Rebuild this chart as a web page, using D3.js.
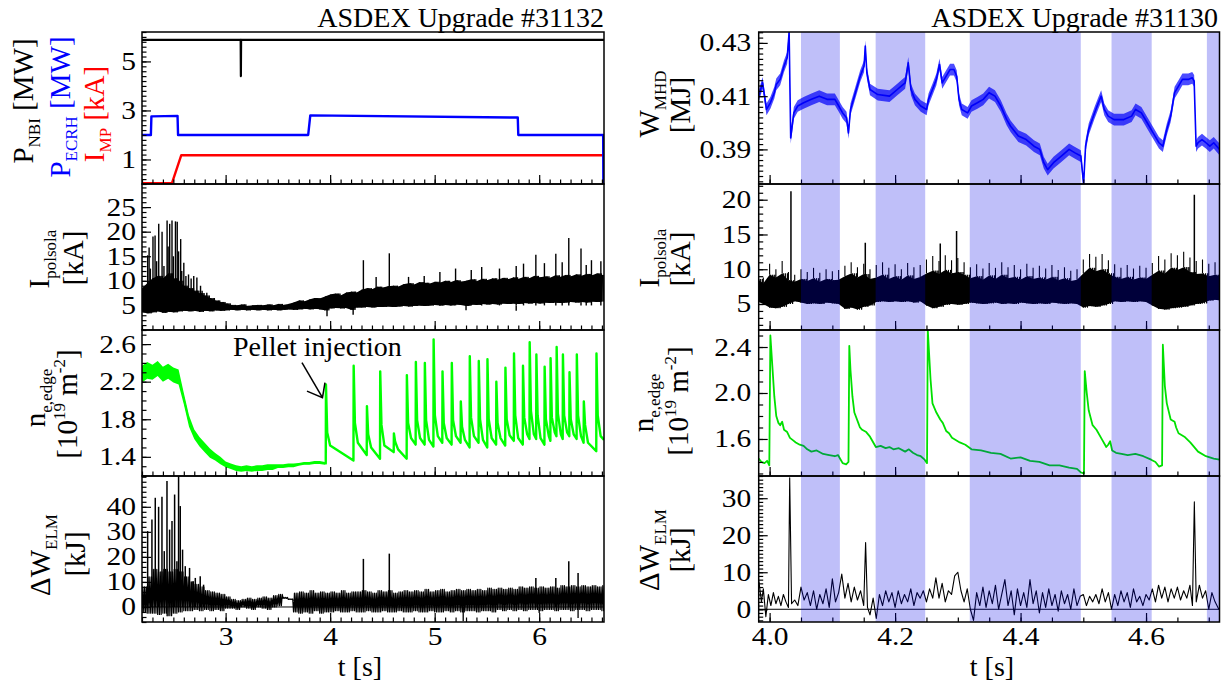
<!DOCTYPE html>
<html>
<head>
<meta charset="utf-8">
<script src="https://cdnjs.cloudflare.com/ajax/libs/d3/7.8.5/d3.min.js"></script>
<style>
  body { margin: 0; background: #fff; }
  svg { font-family: "Liberation Serif", "Times New Roman", serif; }
</style>
</head>
<body>
<svg id="chart" width="1232" height="682"></svg>
<script>
// ---------------- data: shot #31132 (left) ----------------
// heating / coil current steps
let nbiT = [2.20, 3.144, 3.146, 3.148, 6.62];
let nbiV = [5.88, 5.88, 4.40, 5.88, 5.88];
let ecrhT = [2.20, 2.285, 2.29, 2.54, 2.545, 3.79, 3.81, 5.795, 5.80, 6.612, 6.614];
let ecrhV = [2.00, 2.00, 2.76, 2.78, 2.00, 2.00, 2.80, 2.71, 2.00, 2.00, 0.00];
let mpT = [2.20, 2.486, 2.575, 6.62];
let mpV = [0.03, 0.03, 1.17, 1.17];

// common sample times for the noisy left traces
let tL = [2.20,2.25,2.30,2.35,2.40,2.45,2.50,2.55,2.60,2.65,2.70,2.75,2.80,2.85,2.90,2.95,3.00,3.05,3.10,3.15,
          3.20,3.25,3.30,3.35,3.40,3.45,3.50,3.55,3.60,3.65,3.70,3.75,3.80,3.85,3.90,3.95,4.00,4.05,4.10,4.15,
          4.20,4.25,4.30,4.35,4.40,4.45,4.50,4.55,4.60,4.65,4.70,4.75,4.80,4.85,4.90,4.95,5.00,5.05,5.10,5.15,
          5.20,5.25,5.30,5.35,5.40,5.45,5.50,5.55,5.60,5.65,5.70,5.75,5.80,5.85,5.90,5.95,6.00,6.05,6.10,6.15,
          6.20,6.25,6.30,6.35,6.40,6.45,6.50,6.55,6.60];

// I_polsola envelope [kA]
let ipLHi = [8.5,9.5,10.5,11.0,10.5,11.5,10.5,10.0,9.0,8.5, 8.0,7.5,7.0,6.5,6.0,5.7,5.4,5.1,5.0,5.2,
             4.9,5.0,5.1,5.0,5.2,5.0,5.3,5.1,5.3,5.6, 6.0,5.8,6.2,6.5,6.4,6.8,7.2,7.4,7.0,7.6,
             7.8,7.6,8.2,8.5,8.3,8.8,8.6,8.9,9.0,8.8, 9.3,9.5,9.2,9.7,9.6,9.4,9.8,9.6,10.0,9.7,
             10.1,9.8,10.0,10.3,9.9,10.4,10.1,10.5,10.2,10.6, 10.3,10.7,10.4,10.8,10.5,11.0,10.7,10.9,10.6,11.1,
             10.8,11.2,10.9,11.3,11.0,11.4,11.1,11.5,11.2];
let ipLLo = [3.6,3.4,3.6,3.8,3.5,3.7,3.6,3.8,3.9,3.8, 3.9,3.7,3.9,3.8,4.0,3.9,4.0,4.1,4.0,4.1,
             4.0,4.1,4.0,4.1,4.0,4.1,4.0,4.1,4.2,4.1, 4.2,4.3,4.2,4.3,4.2,4.0,4.4,4.5,4.4,4.5,
             4.1,4.6,4.6,4.7,4.6,4.7,4.7,4.8,4.7,4.8, 4.9,4.8,4.9,5.0,4.9,5.0,5.1,5.0,5.1,5.0,
             5.2,5.1,4.9,5.2,5.1,5.3,5.2,5.3,5.2,5.4, 5.3,5.4,5.3,5.5,5.4,5.5,5.4,5.6,5.5,5.6,
             5.5,5.6,5.7,5.6,5.7,5.6,5.8,5.7,5.8];
let ipLSpkT = [2.254,2.268,2.280,2.305,2.325,2.340,2.360,2.392,2.410,2.440,2.450,2.465,2.487,2.500,2.520,2.537,2.550,2.570,2.580,2.600,
               2.620,2.645,2.670,2.695,2.725,2.760,2.775,2.820,4.318,4.440,4.566,4.750,4.900,5.050,5.200,5.350,5.450,5.620,5.780,5.850,
               5.968,6.050,6.159,6.220,6.283,6.400,6.450,6.500,6.590];
let ipLSpkV = [15.2,16.8,12.5,19.0,19.2,14.0,21.6,20.0,13.0,22.3,17.0,21.6,22.3,15.0,22.1,22.0,16.0,18.5,12.0,13.7,
               11.0,11.3,10.5,11.0,10.7,9.0,8.0,7.6,14.2,10.8,15.6,10.8,11.0,11.8,12.5,12.2,12.8,12.5,13.0,13.5,
               15.3,13.6,15.5,13.8,18.7,16.6,13.2,14.2,14.0];
let ipLDipT = [3.970, 4.220, 5.300, 5.780];
let ipLDipV = [2.8, 3.1, 4.0, 3.9];

// n_e,edge before the pellets [1e19 m^-2]
let neLT = [2.20,2.25,2.30,2.35,2.40,2.45,2.50,2.55,2.60,2.65,2.70,2.75,2.80,2.85,2.90,2.95,3.00,3.05,
            3.10,3.15,3.20,3.25,3.30,3.35,3.40,3.45,3.50,3.55,3.60,3.65,3.70,3.75,3.80,3.85,3.90,3.95];
let neLV = [2.28,2.32,2.30,2.34,2.28,2.31,2.27,2.25,2.02,1.78,1.64,1.56,1.50,1.44,1.40,1.36,1.32,1.30,
            1.28,1.27,1.28,1.27,1.28,1.28,1.29,1.29,1.30,1.30,1.31,1.31,1.32,1.33,1.33,1.34,1.34,1.33];
let neLNoise = [0.09,0.09,0.08,0.08,0.08,0.08,0.08,0.08,0.06,0.06,0.05,0.05,0.05,0.05,0.04,0.04,0.03,0.03,
                0.03,0.03,0.03,0.03,0.03,0.03,0.03,0.03,0.02,0.02,0.02,0.02,0.015,0.015,0.015,0.015,0.015,0.015];
// pellets: time, value just before, peak, value ~12 ms after, value ~40 ms after
let pelT    = [3.960,4.225,4.352,4.479,4.610,4.734,4.820,4.906,4.990,5.075,5.164,5.250,5.336,5.422,5.505,
               5.590,5.677,5.759,5.845,5.909,5.973,6.052,6.109,6.167,6.227,6.290,6.360,6.427,6.548];
let pelBase = [1.33,1.36,1.42,1.38,1.45,1.38,1.53,1.53,1.51,1.55,1.53,1.55,1.50,1.55,1.50,
               1.53,1.52,1.57,1.53,1.59,1.59,1.53,1.57,1.62,1.59,1.62,1.59,1.55,1.46];
let pelPeak = [2.17,2.37,1.94,2.31,1.65,2.27,2.41,2.40,2.65,2.31,2.40,1.99,2.47,2.42,2.44,
               2.20,2.35,2.50,2.37,2.62,2.49,2.36,2.45,2.57,2.49,2.30,2.49,1.99,2.50];
let pelKnee = [1.66,1.76,1.64,1.74,1.56,1.76,1.79,1.79,1.84,1.76,1.79,1.72,1.82,1.80,1.80,
               1.76,1.80,1.84,1.82,1.89,1.84,1.80,1.82,1.86,1.84,1.80,1.84,1.74,1.84];
let pelFlat = [1.52,1.55,1.50,1.52,1.48,1.60,1.60,1.58,1.62,1.60,1.62,1.58,1.62,1.58,1.60,
               1.60,1.63,1.60,1.64,1.64,1.60,1.62,1.66,1.64,1.66,1.64,1.62,1.55,1.62];
let neLEndT = 6.62, neLEndV = 1.58;

// Delta W_ELM envelope [kJ]
let dwLHi = [8,12,15,14,15,14,15,14,12,10, 9,8,6.5,6,5.5,5,4,3,2.5,3,
             3.5,3,3.5,4,3.5,4.5,5,3.8,3.2,5.5, 6,5.5,6.5,5.5,6,5.5,6,5.5,6.5,5.5,
             6,6,6.5,6,5.5,6.5,6,6.5,5.5,6, 6.5,6,6.5,6,7,6,6.5,7,6,6.5,
             7,6.5,7,6.5,7,6.5,7.5,7,7.5,7, 7.5,7,8,7.5,8,7.5,8,7.5,8,7.5,
             8.5,8,8.5,8,8.5,8,8.5,8,8.5];
let dwLLo = [-2,-2.5,-2.5,-3,-2.5,-3.5,-2.5,-2,-1.5,-1.5, -1,-1.5,-1,-1.5,-1,-1.5,-0.5,-0.5,-1,0,
             -0.5,-1,0,-0.5,-1,0,0.5,3.4,3.0,-2, -2.5,-2,-2.5,-1.5,-2.5,-2,-2,-1.5,-2,-2,
             -1.5,-2,-2,-1.5,-2,-2,-1.5,-2,-2,-1.5, -2,-2,-1.5,-2,-2,-1.5,-2,-2,-1.5,-2,
             -1.5,-2,-1.5,-1.5,-2,-1.5,-1.5,-2,-1,-1.5, -1,-1.5,-1,-1.5,-1,-1,-1.5,-1,-1,-1.5,
             -1,-1,-1.5,-1,-1,-1.5,-1,-1,-1.5];
let dwLSpkT = [2.254,2.295,2.327,2.359,2.391,2.413,2.439,2.464,2.487,2.512,2.534,2.550,2.566,2.588,2.614,2.655,2.687,2.710,2.757,2.789,
               4.318,4.566,5.968,6.159,6.283,6.372];
let dwLSpkV = [30.3,34.9,43.6,40.0,44.0,22.3,50.3,30.9,34.3,44.9,18.3,52.3,40.3,22.9,16.3,15.6,10.3,11.6,12.3,8.9,
               19.2,21.3,11.6,11.6,18.3,13.6];
let dwLDipT = [2.440, 5.273, 6.000, 6.372];
let dwLDipV = [-3.7, -5.7, -2.4, -4.4];

// ---------------- data: shot #31130 (right) ----------------
let bandStart = [4.050, 4.169, 4.319, 4.545, 4.697];
let bandEnd   = [4.112, 4.248, 4.496, 4.609, 4.720];

// W_MHD [MJ]
let wT = [3.9826,3.9888,3.9950,4.0012,4.0075,4.0106,4.0168,4.0230,4.0280,4.0311,4.0336,4.0386,4.0448,4.0542,4.0666,
          4.0791,4.0915,4.1040,4.1102,4.1164,4.1226,4.1257,4.1289,4.1351,4.1444,4.1506,4.1525,4.1550,4.1600,4.1724,
          4.1911,4.2035,4.2098,4.2160,4.2210,4.2253,4.2316,4.2409,4.2502,4.2533,4.2596,4.2658,4.2708,4.2751,4.2814,
          4.2876,4.2938,4.2982,4.3019,4.3063,4.3156,4.3218,4.3312,4.3405,4.3498,4.3592,4.3685,4.3778,4.3841,4.3965,
          4.4090,4.4214,4.4307,4.4370,4.4432,4.4525,4.4650,4.4774,4.4868,4.4961,4.5005,4.5036,4.5086,4.5179,4.5241,
          4.5285,4.5335,4.5397,4.5490,4.5646,4.5770,4.5833,4.5926,4.6019,4.6113,4.6206,4.6268,4.6331,4.6393,4.6455,
          4.6518,4.6580,4.6673,4.6736,4.6767,4.6798,4.6829,4.6892,4.6954,4.7017,4.7079,4.7171];
let wV = [0.4100,0.4150,0.4050,0.4075,0.4113,0.4144,0.4163,0.4213,0.4244,0.4341,0.3943,0.4037,0.4063,0.4075,0.4088,
          0.4100,0.4088,0.4088,0.4063,0.4037,0.4019,0.3962,0.4050,0.4100,0.4175,0.4213,0.4288,0.4188,0.4125,0.4106,
          0.4100,0.4125,0.4138,0.4150,0.4225,0.4125,0.4088,0.4063,0.4050,0.4088,0.4125,0.4163,0.4219,0.4150,0.4175,
          0.4200,0.4200,0.4175,0.4088,0.4050,0.4037,0.4063,0.4075,0.4088,0.4113,0.4100,0.4063,0.4013,0.3987,0.3950,
          0.3937,0.3912,0.3900,0.3850,0.3824,0.3850,0.3875,0.3900,0.3887,0.3875,0.3770,0.3912,0.3975,0.4037,0.4075,
          0.4100,0.4050,0.4025,0.4012,0.4012,0.4025,0.4050,0.4037,0.4000,0.3962,0.3925,0.3912,0.3975,0.4025,0.4113,
          0.4138,0.4163,0.4163,0.4169,0.4157,0.3912,0.3925,0.3937,0.3925,0.3912,0.3925,0.3900];
let wNoise = 0.0022;

// I_polsola [kA]
let rT = [3.98,3.99,4.00,4.01,4.02,4.03,4.04,4.05,4.06,4.07,4.08,4.09,4.10,4.11,4.12,4.13,4.14,4.15,4.16,4.17,
          4.18,4.19,4.20,4.21,4.22,4.23,4.24,4.25,4.26,4.27,4.28,4.29,4.30,4.31,4.32,4.33,4.34,4.35,4.36,4.37,
          4.38,4.39,4.40,4.41,4.42,4.43,4.44,4.45,4.46,4.47,4.48,4.49,4.50,4.51,4.52,4.53,4.54,4.55,4.56,4.57,
          4.58,4.59,4.60,4.61,4.62,4.63,4.64,4.65,4.66,4.67,4.68,4.69,4.70,4.71,4.72];
let ipRLo = [5.4,5.0,4.5,4.4,4.6,5.0,5.4,5.2,5.0,5.1, 5.0,5.2,5.1,5.0,4.3,4.5,4.2,4.6,4.8,5.3,
             5.4,5.3,5.4,5.3,5.4,5.2,5.4,4.8,4.4,4.6, 4.9,5.0,4.9,5.0,5.2,5.1,5.0,5.1,5.2,5.0,
             5.1,5.0,5.2,5.1,5.0,5.1,5.0,5.2,5.1,5.0, 5.1,5.0,4.5,4.7,4.6,4.8,5.0,5.4,5.3,5.4,
             5.3,5.4,5.3,4.8,4.3,4.2,4.4,4.5,4.6,4.8, 5.0,5.1,5.5,5.6,5.5];
let ipRTop = [8.6,8.0,9.2,8.8,9.4,8.4,8.2,8.6,8.3,8.7, 8.2,8.6,8.4,8.5,9.0,9.4,8.8,9.3,8.6,8.8,
              9.2,8.6,9.0,8.5,9.1,8.6,8.9,9.4,9.8,9.3, 9.9,9.4,9.6,9.2,8.7,9.0,8.5,9.1,8.6,9.2,
              8.7,8.9,8.5,9.0,8.6,8.8,8.5,8.9,8.4,8.7, 8.3,8.5,9.4,10.2,9.7,10.0,9.4,8.9,8.6,8.9,
              8.5,8.8,8.6,9.2,9.8,9.4,10.2,9.9,10.3,9.6, 9.3,9.4,9.0,9.2,8.9];
let ipRHi = [9.6,8.8,10.8,10.0,11.2,9.6,9.2,10.0,9.6,10.2, 9.5,10.0,9.7,9.9,10.5,11.0,10.3,10.8,10.0,10.6,
             11.0,10.2,10.7,10.0,10.9,10.3,10.6,11.4,11.9,11.2, 12.0,11.3,11.6,11.0,10.3,10.7,10.1,10.9,10.2,11.0,
             10.3,10.6,10.0,10.8,10.2,10.5,10.1,10.6,9.9,10.3, 9.8,10.0,11.4,12.2,11.8,12.2,11.3,10.7,10.2,10.6,
             10.1,10.5,10.2,10.9,11.9,11.4,12.3,12.0,12.5,11.7, 11.2,11.4,10.8,11.0,10.6];
let ipRSpkT = [4.034, 4.1525, 4.272, 4.298, 4.677];
let ipRSpkV = [21.2, 13.8, 13.7, 15.5, 20.7];

// n_e,edge [1e19 m^-2]
let neRT = [3.9826,3.9870,3.9919,3.9960,3.9995,4.0012,4.0044,4.0075,4.0106,4.0140,4.0168,4.0200,4.0230,4.0280,4.0324,
            4.0370,4.0417,4.0480,4.0542,4.0600,4.0666,4.0750,4.0853,4.0950,4.1040,4.1090,4.1133,4.1164,4.1220,4.1257,
            4.1270,4.1289,4.1320,4.1351,4.1413,4.1440,4.1475,4.1540,4.1600,4.1693,4.1770,4.1849,4.1910,4.1973,4.2060,
            4.2160,4.2220,4.2284,4.2350,4.2409,4.2471,4.2509,4.2521,4.2565,4.2596,4.2658,4.2720,4.2760,4.2814,4.2860,
            4.2907,4.3031,4.3120,4.3218,4.3370,4.3529,4.3680,4.3841,4.4000,4.4152,4.4300,4.4463,4.4620,4.4774,4.4900,
            4.4961,4.5011,4.5023,4.5055,4.5086,4.5148,4.5210,4.5304,4.5366,4.5397,4.5428,4.5460,4.5521,4.5610,4.5708,
            4.5830,4.5957,4.6081,4.6150,4.6206,4.6256,4.6268,4.6300,4.6331,4.6393,4.6455,4.6480,4.6518,4.6611,4.6705,
            4.6829,4.6954,4.7079,4.7171];
let neRV = [1.43,1.40,1.39,1.41,1.37,2.50,2.23,1.97,1.80,1.74,1.72,1.75,1.68,1.66,1.61,
            1.59,1.57,1.55,1.54,1.51,1.49,1.50,1.47,1.46,1.45,1.46,1.42,1.39,1.38,1.40,
            2.41,2.20,1.97,1.83,1.74,1.70,1.68,1.66,1.62,1.53,1.54,1.52,1.53,1.51,1.52,
            1.49,1.51,1.48,1.46,1.45,1.42,1.39,2.55,2.12,1.91,1.83,1.77,1.74,1.67,1.65,
            1.61,1.57,1.55,1.51,1.50,1.48,1.47,1.43,1.44,1.41,1.40,1.37,1.37,1.35,1.34,
            1.31,1.30,2.19,2.00,1.85,1.72,1.68,1.59,1.53,1.55,1.58,1.50,1.48,1.47,1.46,
            1.47,1.45,1.42,1.40,1.36,1.37,2.42,2.06,1.91,1.77,1.75,1.70,1.65,1.62,1.57,
            1.49,1.45,1.43,1.42];

// Delta W_ELM [kJ]
let dwRT = [3.983,3.987,3.990,3.994,3.998,4.002,4.006,4.010,4.014,4.018,
            4.022,4.026,4.030,4.032,4.035,4.040,4.045,4.050,4.055,4.060,
            4.065,4.070,4.075,4.080,4.085,4.090,4.095,4.100,4.105,4.110,
            4.115,4.120,4.125,4.130,4.135,4.140,4.145,4.150,4.153,4.156,
            4.160,4.165,4.170,4.175,4.180,4.185,4.190,4.195,4.200,4.205,
            4.210,4.215,4.220,4.225,4.230,4.235,4.240,4.245,4.250,4.255,
            4.260,4.265,4.270,4.275,4.280,4.285,4.290,4.295,4.300,4.305,
            4.310,4.315,4.320,4.325,4.330,4.335,4.340,4.345,4.350,4.355,
            4.360,4.365,4.370,4.375,4.380,4.385,4.390,4.395,4.400,4.405,
            4.410,4.415,4.420,4.425,4.430,4.435,4.440,4.445,4.450,4.455,
            4.460,4.465,4.470,4.475,4.480,4.485,4.490,4.495,4.500,4.505,
            4.510,4.515,4.520,4.525,4.530,4.535,4.540,4.545,4.550,4.555,
            4.560,4.565,4.570,4.575,4.580,4.585,4.590,4.595,4.600,4.605,
            4.610,4.615,4.620,4.625,4.630,4.635,4.640,4.645,4.650,4.655,
            4.660,4.665,4.670,4.674,4.677,4.680,4.685,4.690,4.695,4.700,
            4.705,4.710,4.716];
let dwRV = [7.5,2.0,5.5,-2.0,4.0,1.0,4.5,1.5,3.5,1.0,
            4.0,2.0,0.5,35.5,1.5,2.5,1.0,6.0,2.5,4.5,
            1.0,5.0,0.0,4.0,1.5,5.5,0.5,8.2,2.0,4.5,
            9.5,3.0,7.0,2.0,6.0,2.5,5.0,1.0,18.0,0.5,
            -1.5,3.0,-2.5,4.0,1.0,5.0,2.0,4.5,0.5,5.0,
            1.5,4.0,2.0,5.5,1.0,4.5,3.0,5.0,2.0,5.5,
            3.0,8.5,3.0,7.0,2.0,5.0,4.0,9.0,10.0,5.0,
            2.0,5.5,0.0,-3.0,4.5,1.0,6.0,0.5,5.0,1.5,
            6.5,0.0,4.0,8.0,1.0,5.0,-1.5,5.5,1.0,4.5,
            0.5,8.0,1.5,5.0,-1.0,4.5,0.5,5.5,1.0,4.0,
            -0.5,5.0,1.5,4.0,0.0,5.5,1.0,3.5,4.0,1.0,
            3.5,2.0,4.0,1.5,5.5,2.0,4.5,0.0,4.0,1.0,
            5.0,2.0,4.5,0.5,5.5,2.0,3.5,1.0,4.0,2.5,
            5.5,2.0,6.5,3.0,6.0,2.0,5.5,3.0,6.0,2.5,
            5.0,3.0,6.5,1.0,29.0,2.0,6.5,3.0,5.0,0.0,
            4.5,2.0,0.0];

// tick labels
let xTicksL = [3, 4, 5, 6];
let xTicksR = [4.0, 4.2, 4.4, 4.6];

// ---------------- layout ----------------
const svg = d3.select('#chart');
const FONT = '"Liberation Serif", "Times New Roman", serif';
const rows = [32, 184, 330, 476, 622];
const xL = d3.scaleLinear().domain([2.2, 6.62]).range([142, 604]);
const xR = d3.scaleLinear().domain([3.9826, 4.7171]).range([758.7, 1219.5]);

let clipN = 0;
let frames = [];

function stepTicks(domain, step) {
  let lo = Math.ceil(domain[0] / step - 1e-9), hi = Math.floor(domain[1] / step + 1e-9);
  return d3.range(lo, hi + 1).map(k => +(k * step).toFixed(6));
}

// tick labels of the original are set wider than the serif face; stretch them a bit
function widen(sel) {
  sel.selectAll('text').each(function () {
    let w = this.getComputedTextLength();
    if (w > 0) d3.select(this).attr('textLength', w * 1.18).attr('lengthAdjust', 'spacingAndGlyphs');
  });
}

function makePanel(x, row, yDomain, majorY, minorStepY, fmtY, majorX, minorStepX, fmtX, showX) {
  let top = rows[row], bottom = rows[row + 1];
  let x0 = x.range()[0], x1 = x.range()[1];
  let y = d3.scaleLinear().domain(yDomain).range([bottom, top]);
  let id = 'clip' + (clipN++);
  svg.append('clipPath').attr('id', id).append('rect')
    .attr('x', x0).attr('y', top).attr('width', x1 - x0).attr('height', bottom - top);
  let g = svg.append('g').attr('clip-path', 'url(#' + id + ')');

  let ax = svg.append('g');
  let pad = x === xR ? 7.5 : 6;
  ax.append('g').attr('transform', 'translate(' + x0 + ',0)')
    .call(d3.axisLeft(y).tickValues(stepTicks(yDomain, minorStepY)).tickSize(-4.5).tickFormat(''));
  ax.append('g').attr('transform', 'translate(' + x0 + ',0)')
    .call(d3.axisLeft(y).tickValues(majorY).tickSize(-9).tickPadding(pad).tickFormat(fmtY));
  ax.append('g').attr('transform', 'translate(0,' + bottom + ')')
    .call(d3.axisBottom(x).tickValues(stepTicks(x.domain(), minorStepX)).tickSize(-4.5).tickFormat(''));
  ax.append('g').attr('transform', 'translate(0,' + bottom + ')')
    .call(d3.axisBottom(x).tickValues(majorX).tickSize(-9).tickPadding(5).tickFormat(showX ? fmtX : ''));
  ax.selectAll('.domain').remove();
  ax.selectAll('line').attr('stroke-width', 1.2);
  ax.selectAll('text').attr('font-size', 25).attr('font-family', FONT).attr('fill', '#000');
  widen(ax);

  frames.push([x0, top, x1 - x0, bottom - top]);
  return { g: g, x: x, y: y };
}

function line(p, ts, vs, color, w) {
  let pts = ts.map((t, i) => [t, vs[i]]);
  p.g.append('path')
    .attr('d', d3.line().x(d => p.x(d[0])).y(d => p.y(d[1]))(pts))
    .attr('fill', 'none').attr('stroke', color).attr('stroke-width', w)
    .attr('stroke-linejoin', 'round');
}

function ribbon(p, ts, lo, hi, color, op) {
  let pts = ts.map((t, i) => [t, lo[i], hi[i]]);
  p.g.append('path')
    .attr('d', d3.area().x(d => p.x(d[0])).y0(d => p.y(d[1])).y1(d => p.y(d[2]))(pts))
    .attr('fill', color).attr('fill-opacity', op);
}

function zigzag(p, ts, lo, hi, teeth, dt, color, w) {
  let pts = [];
  ts.forEach((t, i) => {
    for (let k = 0; k < 2 * teeth; k++) pts.push([t + k * dt / (2 * teeth), k % 2 ? hi[i] : lo[i]]);
  });
  line(p, pts.map(d => d[0]), pts.map(d => d[1]), color, w);
}

function spikes(p, ts, base, vs, color, w) {
  p.g.append('g').selectAll('line').data(ts).join('line')
    .attr('x1', t => p.x(t)).attr('x2', t => p.x(t))
    .attr('y1', (t, i) => p.y(Array.isArray(base) ? base[i] : base))
    .attr('y2', (t, i) => p.y(vs[i]))
    .attr('stroke', color).attr('stroke-width', w);
}

function yTitle(x, y, parts, color) {
  let tx = svg.append('text')
    .attr('transform', 'translate(' + x + ',' + y + ') rotate(-90)')
    .attr('text-anchor', 'middle').attr('font-size', 29).attr('fill', color || '#000');
  let shift = 0;
  parts.forEach(pt => {
    let target = pt.sub ? 7 : pt.sup ? -12 : 0;
    tx.append('tspan').attr('dy', target - shift)
      .attr('font-size', (pt.sub || pt.sup) ? 17 : 29).text(pt.t);
    shift = target;
  });
}

const f0 = d3.format('d'), f1 = d3.format('.1f'), f2 = d3.format('.2f');

// ---------------- left panels ----------------
let pPow = makePanel(xL, 0, [0, 6.2], [1, 3, 5], 0.2, f0, xTicksL, 0.1, f0, false);
line(pPow, mpT, mpV, '#ff0000', 2.4);
line(pPow, ecrhT, ecrhV, '#0000ff', 2.4);
line(pPow, nbiT, nbiV, '#000000', 2.2);

let pIpL = makePanel(xL, 1, [0, 29.7], [5, 10, 15, 20, 25], 1, f0, xTicksL, 0.1, f0, false);
ribbon(pIpL, tL, ipLLo, ipLHi, '#000', 1);
zigzag(pIpL, tL, ipLLo, ipLHi, 4, 0.05, '#000', 1);
spikes(pIpL, ipLSpkT, 5, ipLSpkV, '#000', 1.4);
spikes(pIpL, ipLDipT, 5, ipLDipV, '#000', 1.4);

let pNeL = makePanel(xL, 2, [1.196, 2.75], [1.4, 1.8, 2.2, 2.6], 0.1, f1, xTicksL, 0.1, f0, false);
ribbon(pNeL, neLT, neLV.map((v, i) => v - neLNoise[i]), neLV.map((v, i) => v + neLNoise[i]), '#00ff00', 1);
line(pNeL, neLT, neLV, '#00ff00', 1.5);
{
  let ts = [neLT[neLT.length - 1]], vs = [neLV[neLV.length - 1]];
  pelT.forEach((t, i) => {
    ts.push(t - 0.002, t, t + 0.012, t + 0.04);
    vs.push(pelBase[i], pelPeak[i], pelKnee[i], pelFlat[i]);
  });
  ts.push(neLEndT); vs.push(neLEndV);
  line(pNeL, ts, vs, '#00ff00', 2.4);
}

let pDwL = makePanel(xL, 3, [-6, 52.3], [0, 10, 20, 30, 40], 2, f0, xTicksL, 0.1, f0, true);
line(pDwL, [2.2, 6.62], [0, 0], '#000', 1);
zigzag(pDwL, tL, dwLLo, dwLHi, 3, 0.05, '#000', 1.2);
spikes(pDwL, dwLSpkT, 0, dwLSpkV, '#000', 1.5);
spikes(pDwL, dwLDipT, 0, dwLDipV, '#000', 1.3);

// ---------------- right panels ----------------
let pW = makePanel(xR, 0, [0.377, 0.4341], [0.39, 0.41, 0.43], 0.002, f2, xTicksR, 0.05, f1, false);
ribbon(pW, wT, wV.map(v => v - wNoise), wV.map(v => v + wNoise), '#0000ff', 0.7);
line(pW, wT, wV, '#0000ff', 1.6);

let pIpR = makePanel(xR, 1, [1.26, 22.26], [5, 10, 15, 20], 1, f0, xTicksR, 0.05, f1, false);
ribbon(pIpR, rT, ipRLo, ipRTop, '#000', 1);
zigzag(pIpR, rT, ipRLo, ipRTop, 3, 0.01, '#000', 1);
spikes(pIpR, rT, ipRTop, ipRHi, '#000', 1.1);
spikes(pIpR, ipRSpkT, 8, ipRSpkV, '#000', 1.5);

let pNeR = makePanel(xR, 2, [1.278, 2.548], [1.6, 2.0, 2.4], 0.1, f1, xTicksR, 0.05, f1, false);
line(pNeR, neRT, neRV, '#00e000', 1.8);

let pDwR = makePanel(xR, 3, [-3.44, 36], [0, 10, 20, 30], 1, f0, xTicksR, 0.05, f1, true);
line(pDwR, [3.9826, 4.7171], [0, 0], '#000', 1);
line(pDwR, dwRT, dwRV, '#000', 1.1);

// shaded time windows over all right panels
svg.append('g').selectAll('rect').data(bandStart).join('rect')
  .attr('x', (d, i) => xR(d))
  .attr('width', (d, i) => Math.min(xR(bandEnd[i]), xR.range()[1]) - xR(d))
  .attr('y', rows[0]).attr('height', rows[4] - rows[0])
  .attr('fill', 'rgb(0,0,230)').attr('fill-opacity', 0.25);

// frames
svg.append('g').selectAll('rect').data(frames).join('rect')
  .attr('x', d => d[0]).attr('y', d => d[1]).attr('width', d => d[2]).attr('height', d => d[3])
  .attr('fill', 'none').attr('stroke', '#000').attr('stroke-width', 1.5);

// ---------------- texts ----------------
svg.append('text').attr('x', 604).attr('y', 27).attr('text-anchor', 'end')
  .attr('font-size', 28).text('ASDEX Upgrade #31132');
svg.append('text').attr('x', 1218).attr('y', 27).attr('text-anchor', 'end')
  .attr('font-size', 28).text('ASDEX Upgrade #31130');

svg.append('text').attr('x', 360).attr('y', 675.5).attr('text-anchor', 'middle')
  .attr('font-size', 28).text('t [s]');
svg.append('text').attr('x', 992).attr('y', 675.5).attr('text-anchor', 'middle')
  .attr('font-size', 28).text('t [s]');

yTitle(33, 101, [{ t: 'P' }, { t: 'NBI', sub: 1 }, { t: ' [MW]' }], '#000');
yTitle(70, 107, [{ t: 'P' }, { t: 'ECRH', sub: 1 }, { t: ' [MW]' }], '#0000ff');
yTitle(104, 114, [{ t: 'I' }, { t: 'MP', sub: 1 }, { t: ' [kA]' }], '#ff0000');

yTitle(49, 259, [{ t: 'I' }, { t: 'polsola', sub: 1 }]);
yTitle(83, 258, [{ t: '[kA]' }]);
yTitle(45, 398, [{ t: 'n' }, { t: 'e,edge', sub: 1 }]);
yTitle(77, 404, [{ t: '[10' }, { t: '19', sup: 1 }, { t: ' m' }, { t: '-2', sup: 1 }, { t: ']' }]);
yTitle(50, 555, [{ t: 'ΔW' }, { t: 'ELM', sub: 1 }]);
yTitle(85, 554, [{ t: '[kJ]' }]);

yTitle(659, 104, [{ t: 'W' }, { t: 'MHD', sub: 1 }]);
yTitle(690, 105, [{ t: '[MJ]' }]);
yTitle(659, 258, [{ t: 'I' }, { t: 'polsola', sub: 1 }]);
yTitle(690, 259, [{ t: '[kA]' }]);
yTitle(653, 403, [{ t: 'n' }, { t: 'e,edge', sub: 1 }]);
yTitle(688, 401, [{ t: '[10' }, { t: '19', sup: 1 }, { t: ' m' }, { t: '-2', sup: 1 }, { t: ']' }]);
yTitle(659, 550, [{ t: 'ΔW' }, { t: 'ELM', sub: 1 }]);
yTitle(690, 550, [{ t: '[kJ]' }]);

// pellet annotation
{
  let tipX = xL(pelT[0]) - 3.5, tipY = pNeL.y(2.03);
  let ann = svg.append('g').attr('stroke', '#000').attr('stroke-width', 1.5).attr('fill', 'none');
  ann.append('line').attr('x1', tipX - 20.5).attr('y1', tipY - 35).attr('x2', tipX).attr('y2', tipY);
  ann.append('polyline').attr('points', [[tipX - 15.5, tipY - 6.5], [tipX, tipY], [tipX + 2.5, tipY - 15]].join(' '));
  svg.append('text').attr('x', 233).attr('y', pNeL.y(2.475)).attr('font-size', 28).text('Pellet injection');
}
</script>
</body>
</html>
